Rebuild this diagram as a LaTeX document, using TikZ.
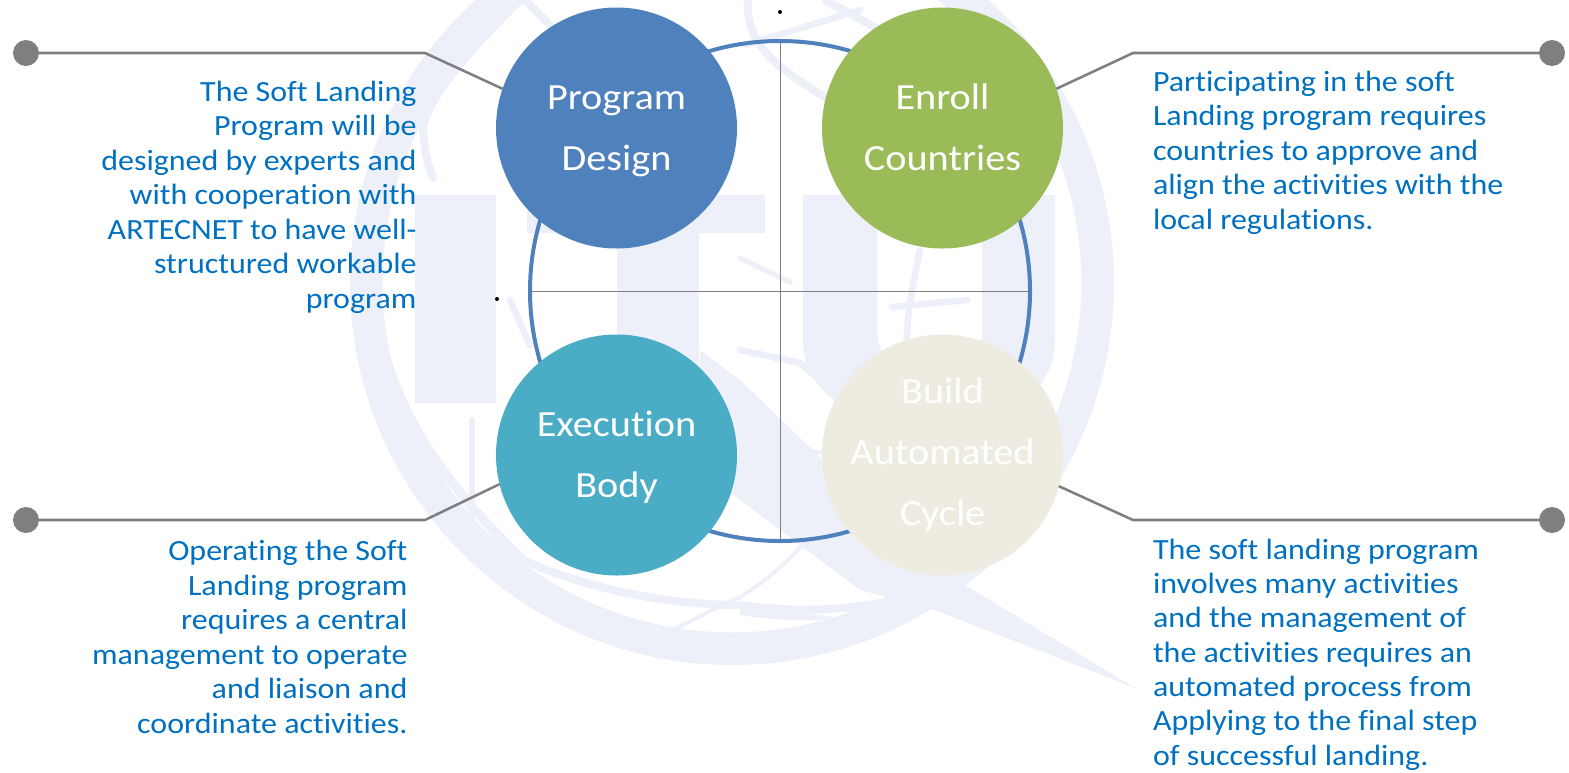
\documentclass[tikz,border=0pt]{standalone}
\usepackage{fontspec}
\setmainfont{Carlito}[FakeStretch=1.09,Ligatures=NoCommon,Kerning=On]
\definecolor{wm}{HTML}{EDF0F9}
\definecolor{txtblue}{HTML}{0070C0}
\definecolor{ringblue}{HTML}{4F81BD}
\definecolor{leader}{HTML}{7F7F7F}
\definecolor{greenfill}{HTML}{9BBB59}
\definecolor{tealfill}{HTML}{4BACC6}
\definecolor{creamfill}{HTML}{EEECE1}
\tikzset{
  bubble/.style={circle,minimum size=180.75pt,inner sep=0pt,outer sep=0pt,text=white,align=center,
    font=\fontsize{27.7}{45.75}\selectfont},
  endball/.style={circle,fill=leader,minimum size=19.5pt,inner sep=0pt,outer sep=0pt},
  note/.style={text=txtblue,font=\fontsize{22}{25.9}\selectfont,inner sep=0pt,outer sep=0pt},
  leadline/.style={draw=leader,line width=1.9pt},
  spoke/.style={draw=leader,line width=0.7pt},
  wmline/.style={draw=wm,line cap=round},
  speck/.style={circle,fill=black,minimum size=3pt,inner sep=0pt}
}
\begin{document}
\begin{tikzpicture}[x=0.75pt,y=-0.75pt]
\useasboundingbox (0,0) rectangle (1569,772);
\begin{scope}
\clip (0,0) rectangle (1569,772);
% watermark: globe ring
\fill[wm,even odd rule] (732,283) circle[radius=286.5pt] (732,283) circle[radius=262pt];
% letters I T U
\fill[wm] (415,195) rectangle (496,403);
\fill[wm] (527,195) rectangle (765,233);
\fill[wm] (617,195) rectangle (699,403);
\fill[wm,even odd rule] (803,195) -- (877,195) -- (877,330) .. controls (877,365) and (910,385) .. (930,385) .. controls (955,385) and (982,365) .. (982,330) -- (982,195) -- (1055,195) -- (1055,340) .. controls (1055,395) and (1000,428) .. (930,428) .. controls (860,428) and (803,395) .. (803,340) -- cycle;
% swoosh
\fill[wm] (700,350) -- (740,380) -- (823,460) -- (885,535) -- (965,585) -- (1135,688) -- (930,608) -- (860,590) -- (800,545) -- (740,500) -- (700,470) -- cycle;
% meridians and latitudes
\draw[wmline,line width=6pt] (523,560) .. controls (590,590) and (670,605) .. (740,605) .. controls (790,612) and (850,612) .. (900,598);
\draw[wmline,line width=3pt] (673,630) -- (718,607) -- (740,597) .. controls (760,585) and (785,565) .. (802,545);
\fill[wm] (740,606) .. controls (780,612) and (820,614) .. (843,619) .. controls (810,622) and (770,620) .. (740,615) -- cycle;
\draw[wmline,line width=7pt] (383,345) .. controls (400,420) and (450,490) .. (523,560);
\draw[wmline,line width=5pt] (472,420) -- (472,520);
\draw[wmline,line width=6pt] (520,0) .. controls (470,50) and (425,100) .. (423,130) .. controls (424,150) and (428,165) .. (433,178);
\draw[wmline,line width=6pt] (525,0) -- (575,50);
\draw[wmline,line width=6pt] (748,0) .. controls (745,40) and (770,65) .. (830,100);
\draw[wmline,line width=5pt] (745,45) .. controls (780,35) and (820,22) .. (860,10);
\draw[wmline,line width=6pt] (825,0) -- (880,30);
\draw[wmline,line width=4pt] (740,258) -- (790,282);
\draw[wmline,line width=5pt] (892,307) -- (967,300);
\draw[wmline,line width=5pt] (920,250) .. controls (912,290) and (905,320) .. (907,360);
\draw[wmline,line width=5pt] (510,300) -- (530,345);
\draw[wmline,line width=5pt] (740,350) -- (800,363) -- (840,397);
\draw[wmline,line width=3pt] (740,438) -- (785,447) -- (825,453);
\end{scope}
% ring and spokes
\node[circle,draw=ringblue,line width=3pt,minimum size=375pt,inner sep=0pt,outer sep=0pt] (ring) at (780,291) {};
\draw[spoke,shorten <=1.5pt,shorten >=1.5pt] (ring.west) -- (ring.east);
\draw[spoke,shorten <=1.5pt,shorten >=1.5pt] (ring.north) -- (ring.south);
% bubbles
\node[bubble,fill=ringblue] (pd) at (616.5,128) {\strut Program\\\strut Design};
\node[bubble,fill=greenfill] (ec) at (942.5,128) {\strut Enroll\\\strut Countries};
\node[bubble,fill=tealfill] (eb) at (616.5,455) {\strut Execution\\\strut Body};
\node[bubble,fill=creamfill] (ba) at (942.5,455) {Build\\Automated\\Cycle};
% specks
\node[speck] (s1) at (780,12) {};
\node[speck] (s2) at (497,299) {};
% leaders
\node[endball] (b1) at (26,53) {};
\node[endball] (b2) at (1552,53) {};
\node[endball] (b3) at (26,520) {};
\node[endball] (b4) at (1552,520) {};
\coordinate (k1) at (425,53);
\coordinate (k2) at (1133,53);
\coordinate (k3) at (425,520);
\coordinate (k4) at (1133,520);
\draw[leadline] (b1) -- (k1) -- (pd.161.6);
\draw[leadline] (b2) -- (k2) -- (ec.19);
\draw[leadline] (b3) -- (k3) -- (eb.194);
\draw[leadline] (b4) -- (k4) -- (ba.-15);
% notes
\node[note,anchor=east,align=right] (n1) at (416.5,197) {The Soft Landing\\Program will be\\designed by experts and\\with cooperation with\\ARTECNET to have well-\\structured workable\\program};
\node[note,anchor=west,align=left] (n2) at (1153,152.5) {Participating in the soft\\Landing program requires\\countries to approve and\\align the activities with the\\local regulations.};
\node[note,anchor=east,align=right] (n3) at (407.5,637) {Operating the Soft\\Landing program\\requires a central\\management to operate\\and liaison and\\coordinate activities.};
\node[note,anchor=west,align=left,font=\fontsize{22}{25.75}\selectfont] (n4) at (1153,654.5) {The soft landing program\\involves many activities\\and the management of\\the activities requires an\\automated process from\\Applying to the final step\\of successful landing.};
\end{tikzpicture}
\end{document}
